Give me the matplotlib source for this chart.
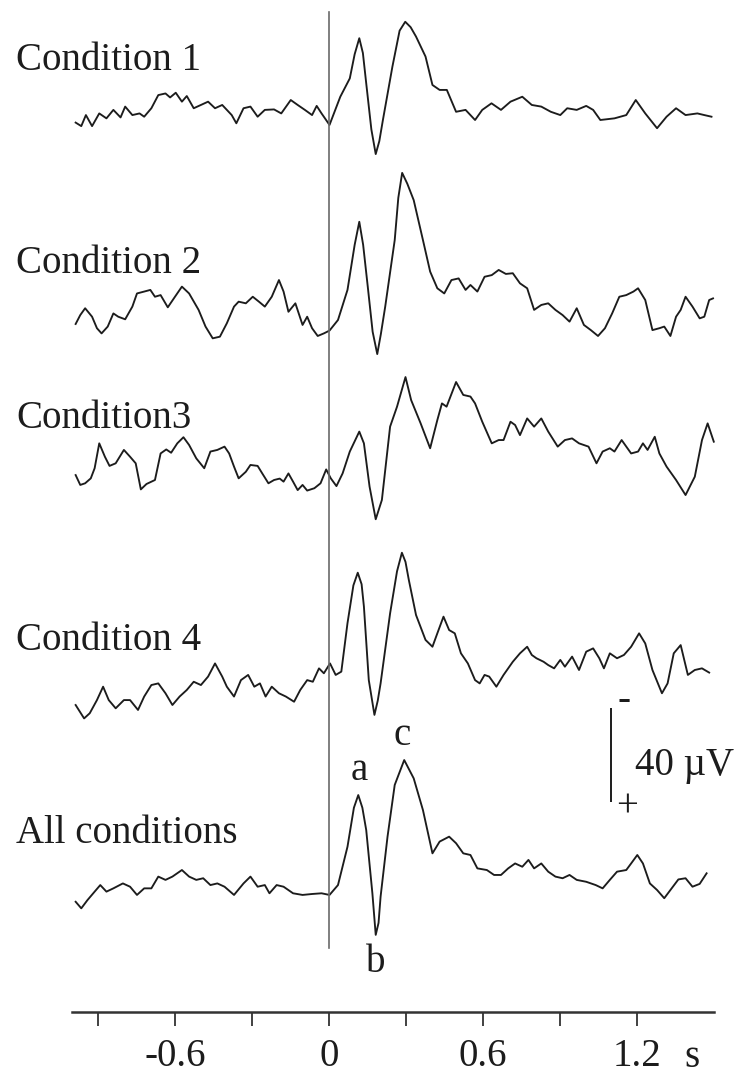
#!/usr/bin/env python3
"""
ERP traces: four conditions and the grand average.

Stacked averaged waveforms (negative up), stimulus onset line at t = 0,
a 40 uV calibration bar and a time axis drawn underneath.
"""
import numpy as np
import matplotlib
matplotlib.use("Agg")
import matplotlib.pyplot as plt

# --- data: time (s) and amplitude (uV, negative up) ---------------------------------------
COND1_T = [-0.987, -0.965, -0.947, -0.923, -0.895, -0.867, -0.840, -0.812, -0.794, -0.766,
           -0.738, -0.720, -0.692, -0.665, -0.637, -0.619, -0.597, -0.573, -0.554, -0.527,
           -0.499, -0.471, -0.444, -0.416, -0.379, -0.361, -0.333, -0.306, -0.278, -0.250,
           -0.214, -0.186, -0.149, -0.122, -0.094, -0.066, -0.048, -0.029, 0.002, 0.044,
           0.081, 0.100, 0.118, 0.132, 0.145, 0.165, 0.182, 0.196, 0.210, 0.247,
           0.275, 0.297, 0.318, 0.339, 0.376, 0.403, 0.431, 0.459, 0.495, 0.532,
           0.569, 0.597, 0.633, 0.670, 0.707, 0.753, 0.790, 0.827, 0.864, 0.901,
           0.928, 0.965, 1.002, 1.029, 1.057, 1.112, 1.158, 1.195, 1.232, 1.278,
           1.315, 1.352, 1.389, 1.435, 1.462, 1.490]
COND1_V = [1.1, 2.6, -2.1, 2.6, -2.8, -0.7, -4.3, -1.1, -5.7, -2.1,
           -2.8, -1.4, -5.0, -10.6, -11.3, -9.6, -11.6, -7.8, -10.2, -5.0,
           -6.4, -7.8, -5.0, -6.4, -2.1, 1.4, -5.0, -5.7, -1.4, -4.3,
           -4.5, -2.8, -8.5, -6.4, -4.3, -2.1, -6.0, -2.8, 2.1, -9.9,
           -17.7, -28.0, -34.8, -28.5, -15.6, 4.0, 14.5, 9.0, 0.0, -22.7,
           -38.0, -41.8, -39.5, -35.5, -27.0, -14.9, -12.8, -12.8, -3.5, -4.3,
           0.0, -4.3, -7.1, -4.3, -7.8, -9.9, -6.4, -5.7, -3.5, -2.1,
           -5.0, -4.3, -6.0, -4.3, 0.0, -0.7, -2.1, -8.5, -2.8, 3.5,
           -1.4, -5.0, -2.1, -2.8, -2.1, -1.4]

COND2_T = [-0.987, -0.969, -0.950, -0.923, -0.904, -0.886, -0.862, -0.840, -0.821, -0.794,
           -0.766, -0.748, -0.720, -0.696, -0.678, -0.656, -0.628, -0.600, -0.573, -0.545,
           -0.508, -0.481, -0.453, -0.425, -0.398, -0.370, -0.352, -0.324, -0.297, -0.273,
           -0.250, -0.223, -0.195, -0.177, -0.158, -0.131, -0.103, -0.085, -0.066, -0.044,
           -0.020, 0.002, 0.035, 0.072, 0.100, 0.118, 0.133, 0.151, 0.170, 0.188,
           0.202, 0.219, 0.256, 0.270, 0.285, 0.305, 0.330, 0.366, 0.394, 0.422,
           0.449, 0.477, 0.505, 0.532, 0.551, 0.578, 0.606, 0.634, 0.661, 0.689,
           0.716, 0.744, 0.772, 0.799, 0.827, 0.854, 0.882, 0.910, 0.937, 0.965,
           0.993, 1.020, 1.048, 1.075, 1.103, 1.131, 1.158, 1.186, 1.204, 1.232,
           1.260, 1.287, 1.306, 1.330, 1.352, 1.370, 1.389, 1.416, 1.444, 1.462,
           1.481, 1.496]
COND2_V = [1.7, -2.1, -5.0, -1.4, 3.5, 5.7, 2.8, -2.8, -1.4, -0.3,
           -5.7, -11.3, -12.1, -12.8, -9.9, -10.6, -5.4, -9.9, -14.2, -11.3,
           -4.3, 2.8, 7.8, 7.1, 1.4, -5.7, -7.8, -7.1, -9.9, -7.8,
           -5.7, -9.9, -17.0, -12.1, -3.5, -7.1, 2.1, -1.4, 3.5, 6.8,
           5.7, 4.5, 0.0, -12.8, -32.0, -41.8, -32.0, -14.2, 5.0, 14.5,
           6.0, -5.7, -34.0, -52.0, -62.6, -58.0, -51.0, -34.0, -20.6, -13.5,
           -11.3, -17.0, -17.7, -12.8, -14.9, -12.1, -18.4, -19.1, -21.3, -19.6,
           -19.9, -15.6, -13.5, -4.3, -6.4, -7.1, -4.3, -2.1, 0.7, -5.0,
           2.1, 4.3, 6.8, 3.5, -2.8, -9.9, -10.6, -12.1, -13.5, -8.5,
           4.3, 3.5, 2.8, 6.8, -1.4, -4.3, -9.9, -5.7, -0.7, -1.4,
           -8.5, -9.2]

COND3_T = [-0.987, -0.969, -0.950, -0.928, -0.913, -0.895, -0.873, -0.855, -0.831, -0.799,
           -0.775, -0.753, -0.733, -0.711, -0.678, -0.656, -0.634, -0.615, -0.591, -0.567,
           -0.545, -0.517, -0.486, -0.462, -0.435, -0.407, -0.389, -0.370, -0.352, -0.324,
           -0.306, -0.278, -0.260, -0.236, -0.214, -0.192, -0.177, -0.158, -0.140, -0.122,
           -0.103, -0.085, -0.057, -0.033, -0.011, 0.007, 0.029, 0.053, 0.081, 0.118,
           0.136, 0.158, 0.182, 0.206, 0.238, 0.265, 0.298, 0.320, 0.357, 0.394,
           0.422, 0.440, 0.458, 0.495, 0.523, 0.551, 0.569, 0.597, 0.634, 0.661,
           0.680, 0.707, 0.725, 0.744, 0.772, 0.799, 0.827, 0.854, 0.891, 0.919,
           0.947, 0.974, 1.011, 1.042, 1.066, 1.094, 1.112, 1.140, 1.177, 1.204,
           1.223, 1.241, 1.269, 1.287, 1.315, 1.352, 1.389, 1.425, 1.453, 1.475,
           1.499]
COND3_V = [-2.1, 2.1, 1.4, -0.7, -5.0, -15.6, -9.9, -6.0, -7.1, -12.8,
           -9.9, -7.1, 4.0, 1.7, 0.0, -11.3, -13.0, -11.6, -15.6, -18.2,
           -14.9, -9.2, -5.0, -12.1, -12.8, -14.2, -11.3, -5.7, -0.7, -3.5,
           -6.4, -6.0, -2.8, 1.4, 0.0, -0.6, 0.7, -2.8, 0.7, 4.3,
           2.1, 4.5, 3.5, 1.4, -4.5, -0.7, 2.6, -2.8, -12.1, -20.6,
           -15.6, 2.8, 16.7, 8.5, -22.7, -31.2, -43.8, -34.0, -24.1, -13.5,
           -25.5, -32.6, -31.2, -41.7, -36.2, -35.5, -32.6, -24.8, -15.6, -17.0,
           -17.0, -24.8, -23.4, -19.1, -26.2, -22.7, -26.2, -20.6, -14.2, -17.0,
           -17.7, -15.6, -14.2, -7.1, -12.1, -13.5, -12.1, -17.0, -11.3, -12.1,
           -15.6, -12.8, -18.4, -11.3, -5.7, 0.0, 6.4, -1.4, -17.0, -24.1,
           -16.3]

COND4_T = [-0.987, -0.954, -0.932, -0.904, -0.880, -0.858, -0.831, -0.799, -0.775, -0.744,
           -0.720, -0.692, -0.665, -0.637, -0.610, -0.582, -0.554, -0.527, -0.499, -0.471,
           -0.444, -0.416, -0.398, -0.370, -0.343, -0.315, -0.291, -0.269, -0.247, -0.223,
           -0.195, -0.168, -0.136, -0.112, -0.085, -0.063, -0.039, -0.020, 0.004, 0.026,
           0.048, 0.072, 0.095, 0.112, 0.127, 0.136, 0.155, 0.177, 0.190, 0.201,
           0.238, 0.265, 0.284, 0.298, 0.311, 0.339, 0.376, 0.403, 0.422, 0.446,
           0.468, 0.490, 0.514, 0.541, 0.569, 0.587, 0.606, 0.624, 0.652, 0.680,
           0.716, 0.744, 0.772, 0.790, 0.808, 0.836, 0.854, 0.877, 0.901, 0.919,
           0.947, 0.974, 1.002, 1.029, 1.053, 1.071, 1.094, 1.122, 1.149, 1.177,
           1.208, 1.232, 1.260, 1.297, 1.319, 1.343, 1.370, 1.398, 1.425, 1.453,
           1.481]
COND4_V = [14.9, 20.6, 18.4, 12.8, 7.1, 12.8, 16.3, 12.8, 12.8, 17.0,
           11.3, 6.4, 5.7, 9.9, 14.9, 11.3, 8.5, 5.0, 6.4, 2.8,
           -2.8, 2.8, 7.1, 11.3, 4.3, 2.1, 7.1, 5.7, 11.3, 7.1,
           9.9, 11.3, 13.5, 8.5, 4.3, 5.0, -0.7, 1.4, -2.8, 2.1,
           0.7, -19.9, -36.0, -41.4, -36.5, -27.0, 4.3, 19.1, 13.0, 5.7,
           -24.1, -42.0, -49.9, -46.0, -38.3, -23.4, -12.8, -9.9, -15.6, -22.7,
           -17.0, -15.6, -7.1, -2.8, 4.3, 5.7, 2.1, 2.8, 7.1, 2.1,
           -3.5, -7.1, -9.9, -6.4, -5.0, -3.5, -2.1, -0.7, -4.3, -1.4,
           -5.7, 0.0, -7.8, -9.2, -5.0, -0.7, -7.1, -5.0, -6.4, -9.9,
           -15.6, -11.3, 0.0, 9.9, 5.7, -7.1, -10.6, 2.1, 0.0, -0.7,
           1.1]

ALL_T = [-0.987, -0.965, -0.941, -0.913, -0.891, -0.867, -0.840, -0.803, -0.775, -0.748,
         -0.720, -0.692, -0.665, -0.637, -0.610, -0.573, -0.545, -0.517, -0.490, -0.462,
         -0.435, -0.407, -0.370, -0.333, -0.306, -0.278, -0.250, -0.232, -0.204, -0.177,
         -0.140, -0.103, -0.066, -0.029, 0.002, 0.035, 0.072, 0.097, 0.114, 0.130,
         0.145, 0.169, 0.182, 0.193, 0.201, 0.228, 0.256, 0.293, 0.330, 0.366,
         0.403, 0.431, 0.468, 0.495, 0.523, 0.551, 0.578, 0.615, 0.643, 0.670,
         0.698, 0.725, 0.753, 0.777, 0.799, 0.827, 0.854, 0.882, 0.910, 0.937,
         0.965, 1.002, 1.039, 1.066, 1.094, 1.122, 1.158, 1.177, 1.201, 1.223,
         1.250, 1.278, 1.306, 1.330, 1.361, 1.389, 1.416, 1.444, 1.471]
ALL_V = [5.0, 7.8, 4.3, 0.7, -2.1, 0.7, -0.7, -2.8, -1.4, 2.1,
         -0.7, -0.7, -5.7, -4.3, -5.7, -8.5, -5.7, -4.3, -5.0, -2.1,
         -2.8, -1.4, 2.1, -2.8, -5.7, -1.4, -2.1, 1.4, -2.1, -1.4,
         1.4, 2.1, 1.7, 1.4, 2.1, -2.1, -18.4, -35.0, -40.4, -35.0,
         -25.5, 1.4, 19.1, 14.0, 2.8, -22.7, -44.7, -55.3, -47.5, -34.0,
         -15.6, -20.6, -22.7, -19.9, -15.6, -14.9, -9.2, -8.5, -6.4, -6.4,
         -9.2, -11.3, -9.9, -12.8, -9.2, -11.3, -7.8, -5.7, -5.0, -6.4,
         -4.3, -3.5, -2.1, -0.7, -4.3, -7.8, -8.5, -11.3, -14.9, -11.3,
         -2.8, 0.0, 3.5, 0.0, -4.5, -5.0, -1.4, -2.6, -7.1]

LABELS = ["Condition 1", "Condition 2", "Condition3", "Condition 4", "All conditions"]
TIME_RANGE = (-1.0, 1.5)                       # span of the time axis (s)
TICKS = [-0.9, -0.6, -0.3, 0.0, 0.3, 0.6, 0.9, 1.2]
TICK_LABELS = ["", "-0.6", "", "0", "", "0.6", "", "1.2"]
SCALE_UV = 40                                  # calibration bar (uV)

# --- layout (pixels on the 741 x 1075 canvas) ---------------------------------------------
W, H = 741, 1075
X0 = 329                                       # pixel column of t = 0
PX_PER_S = 256.7
PX_PER_UV = 2.35
BASES = [120, 320, 480, 670, 890]              # pixel row of 0 uV for each trace
LABEL_BASELINES = [70, 273, 428, 650, 843]
AXIS_ROW = 1012
FONT = ["Liberation Serif", "DejaVu Serif"]
FS = 28
INK = "#1c1c1c"


def px_text(x, y, s, ha="left", va="baseline"):
    """Place text by pixel position on the canvas."""
    plt.gcf().text(x / W, 1 - y / H, s, ha=ha, va=va, fontsize=FS,
                   family=FONT, color=INK)


def main():
    fig = plt.figure(figsize=(W / 100, H / 100), dpi=100)
    ax = fig.add_axes([0, 0, 1, 1])
    ax.set_xlim(-X0 / PX_PER_S, (W - X0) / PX_PER_S)
    ax.set_ylim(H / PX_PER_UV, 0)              # inverted: negative up
    ax.axis("off")

    traces = [(COND1_T, COND1_V), (COND2_T, COND2_V), (COND3_T, COND3_V),
              (COND4_T, COND4_V), (ALL_T, ALL_V)]
    for (t, v), base in zip(traces, BASES):
        ax.plot(t, np.asarray(v) + base / PX_PER_UV, color=INK, lw=1.35,
                solid_joinstyle="round")

    # stimulus onset
    ax.axvline(0, ymin=1 - 948 / H, ymax=1 - 12 / H, color="#6a6a6a", lw=1.2)

    # calibration bar (negative up)
    bar_x = (611 - X0) / PX_PER_S
    bar_bottom = 802 / PX_PER_UV
    ax.vlines(bar_x, bar_bottom - SCALE_UV, bar_bottom, color=INK, lw=1.4)
    px_text(624, 701, "-", ha="center", va="center")
    px_text(627, 807, "+", ha="center", va="center")
    px_text(635, 775, f"{SCALE_UV} \u00b5V")

    # condition labels and component letters
    for label, y in zip(LABELS, LABEL_BASELINES):
        px_text(16, y, label)
    px_text(359, 780, "a", ha="center")
    px_text(402, 745, "c", ha="center")
    px_text(376, 972, "b", ha="center")

    # time axis
    ax_t = fig.add_axes([0, 1 - AXIS_ROW / H, 1, 1e-4])
    ax_t.set_xlim(ax.get_xlim())
    ax_t.patch.set_visible(False)
    for side in ("top", "left", "right"):
        ax_t.spines[side].set_visible(False)
    ax_t.spines["bottom"].set_bounds(*TIME_RANGE)
    ax_t.spines["bottom"].set_linewidth(1.8)
    ax_t.spines["bottom"].set_color("#333333")
    ax_t.set_yticks([])
    ax_t.set_xticks(TICKS)
    ax_t.set_xticklabels(TICK_LABELS, family=FONT, fontsize=FS, color=INK)
    ax_t.tick_params(axis="x", direction="out", length=10, width=1.3,
                     color="#333333", pad=9)
    px_text(692, 1067, "s", ha="center")

    fig.savefig("out.png", dpi=100, facecolor="white")
    plt.close(fig)


if __name__ == "__main__":
    main()
